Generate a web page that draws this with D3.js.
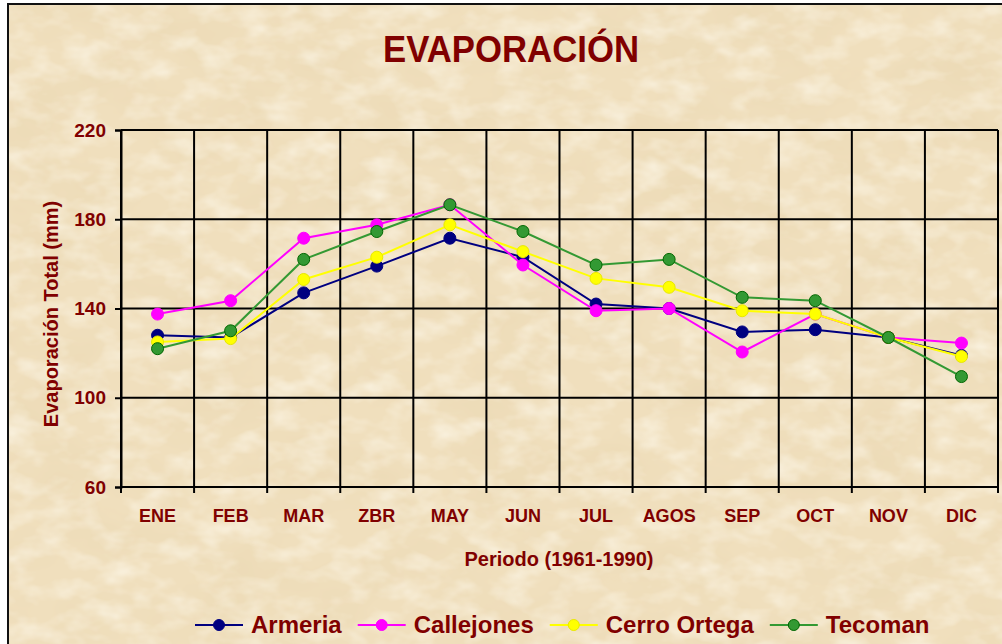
<!DOCTYPE html>
<html>
<head>
<meta charset="utf-8">
<script src="https://cdn.jsdelivr.net/npm/d3@7"></script>
<style>
  body { margin: 0; background: #fff; }
  svg { display: block; font-family: "Liberation Sans", Arial, sans-serif; }
</style>
</head>
<body>
<svg></svg>
<script>
// data
let months = ["ENE", "FEB", "MAR", "ZBR", "MAY", "JUN", "JUL", "AGOS", "SEP", "OCT", "NOV", "DIC"];
let armeria = [128, 127, 147, 159, 171.5, 163, 142, 140, 129.5, 130.5, 127, 119];
let callejones = [137.5, 143.5, 171.5, 177.5, 186.5, 159.5, 139, 140, 120.5, 137.5, 127, 124.5];
let cerroOrtega = [125, 126.5, 153, 163, 177.5, 165.5, 153.5, 149.5, 139, 137.5, 127, 118.5];
let tecoman = [122, 130, 162, 174.5, 186.5, 174.5, 159.5, 162, 145, 143.5, 127, 109.5];
let yTicks = [60, 100, 140, 180, 220];
let seriesNames = ["Armeria", "Callejones", "Cerro Ortega", "Tecoman"];

let width = 1002;
let height = 644;
let plot = { left: 121, right: 998, top: 130, bottom: 487 };
let textColor = "#800000";

let series = [
  { name: seriesNames[0], values: armeria, line: "#000080", fill: "#000080", stroke: "#000080" },
  { name: seriesNames[1], values: callejones, line: "#FF00FF", fill: "#FF00FF", stroke: "#FF00FF" },
  { name: seriesNames[2], values: cerroOrtega, line: "#FFFF00", fill: "#FFFF00", stroke: "#E8E800" },
  { name: seriesNames[3], values: tecoman, line: "#339933", fill: "#339933", stroke: "#006600" },
];

let svg = d3.select("svg").attr("width", width).attr("height", height);

// paper background
let defs = svg.append("defs");
let f = defs.append("filter").attr("id", "paper").attr("x", 0).attr("y", 0).attr("width", "100%").attr("height", "100%");
f.append("feTurbulence")
  .attr("type", "fractalNoise")
  .attr("baseFrequency", "0.011 0.018")
  .attr("numOctaves", 4)
  .attr("seed", 7);
f.append("feColorMatrix")
  .attr("values", "0 0 0 0 0.80  0 0 0 0 0.66  0 0 0 0 0.42  0.8 0 0 0 -0.3");

let f2 = defs.append("filter").attr("id", "paper2").attr("x", 0).attr("y", 0).attr("width", "100%").attr("height", "100%");
f2.append("feTurbulence")
  .attr("type", "fractalNoise")
  .attr("baseFrequency", "0.03 0.05")
  .attr("numOctaves", 3)
  .attr("seed", 21);
f2.append("feColorMatrix")
  .attr("values", "0 0 0 0 1  0 0 0 0 0.97  0 0 0 0 0.88  1.2 0 0 0 -0.5");

svg.append("rect").attr("x", 8).attr("y", 4).attr("width", width).attr("height", height)
  .attr("fill", "#F0DFBD");
svg.append("rect").attr("x", 8).attr("y", 4).attr("width", width).attr("height", height)
  .attr("filter", "url(#paper)");
svg.append("rect").attr("x", 8).attr("y", 4).attr("width", width).attr("height", height)
  .attr("filter", "url(#paper2)");
svg.append("path")
  .attr("d", `M8,${height} V4 H${width}`)
  .attr("fill", "none").attr("stroke", "#111").attr("stroke-width", 2);

// scales
let xScale = d3.scaleBand().domain(months).range([plot.left, plot.right]);
let yScale = d3.scaleLinear().domain([60, 220]).range([plot.bottom, plot.top]);
let xc = (m) => xScale(m) + xScale.bandwidth() / 2;

// grid
let grid = svg.append("g").attr("stroke", "#000").attr("stroke-width", 2);
grid.selectAll(".hg").data(yTicks).enter().append("line")
  .attr("x1", plot.left).attr("x2", plot.right)
  .attr("y1", (d) => yScale(d)).attr("y2", (d) => yScale(d));
let bounds = months.map((m) => xScale(m)).concat([plot.right]);
grid.selectAll(".vg").data(bounds).enter().append("line")
  .attr("x1", (d) => d).attr("x2", (d) => d)
  .attr("y1", plot.top).attr("y2", plot.bottom + 6);

// y axis
let yAxis = d3.axisLeft(yScale).tickValues(yTicks).tickSize(6).tickPadding(9);
let gy = svg.append("g").attr("transform", `translate(${plot.left},0)`).call(yAxis);
gy.select(".domain").attr("stroke", "#000").attr("stroke-width", 2);
gy.selectAll(".tick line").attr("stroke", "#000").attr("stroke-width", 2);
gy.selectAll(".tick text")
  .attr("fill", textColor).style("font-size", "19px").style("font-weight", "bold");

// x axis
let xAxis = d3.axisBottom(xScale).tickSize(0).tickPadding(22);
let gx = svg.append("g").attr("transform", `translate(0,${plot.bottom})`).call(xAxis);
gx.select(".domain").remove();
gx.selectAll(".tick text")
  .attr("fill", textColor).style("font-size", "18px").style("font-weight", "bold");

// titles
svg.append("text")
  .attr("x", 511).attr("y", 62)
  .attr("text-anchor", "middle")
  .attr("fill", textColor)
  .style("font-size", "36px").style("font-weight", "bold")
  .attr("textLength", 256).attr("lengthAdjust", "spacingAndGlyphs")
  .text("EVAPORACIÓN");

svg.append("text")
  .attr("x", 559).attr("y", 566)
  .attr("text-anchor", "middle")
  .attr("fill", textColor)
  .style("font-size", "20px").style("font-weight", "bold")
  .text("Periodo (1961-1990)");

svg.append("text")
  .attr("transform", "translate(58,314) rotate(-90)")
  .attr("text-anchor", "middle")
  .attr("fill", textColor)
  .style("font-size", "20px").style("font-weight", "bold")
  .text("Evaporación Total (mm)");

// lines and points
let line = d3.line().x((d, i) => xc(months[i])).y((d) => yScale(d));

series.forEach((s) => {
  let g = svg.append("g");
  g.append("path")
    .attr("d", line(s.values))
    .attr("fill", "none")
    .attr("stroke", s.line)
    .attr("stroke-width", 2);
  g.selectAll("circle").data(s.values).enter().append("circle")
    .attr("cx", (d, i) => xc(months[i]))
    .attr("cy", (d) => yScale(d))
    .attr("r", 6)
    .attr("fill", s.fill)
    .attr("stroke", s.stroke)
    .attr("stroke-width", 1);
});

// legend
let legend = svg.append("g").attr("transform", "translate(195,625)");
let lx = 0;
series.forEach((s) => {
  let item = legend.append("g").attr("transform", `translate(${lx},0)`);
  item.append("line").attr("x1", 0).attr("x2", 48).attr("y1", 0).attr("y2", 0)
    .attr("stroke", s.line).attr("stroke-width", 2);
  item.append("circle").attr("cx", 24).attr("cy", 0).attr("r", 5.5)
    .attr("fill", s.fill).attr("stroke", s.stroke).attr("stroke-width", 1);
  let t = item.append("text").attr("x", 56).attr("y", 8)
    .attr("fill", textColor)
    .style("font-size", "24px").style("font-weight", "bold")
    .text(s.name);
  lx += 56 + t.node().getComputedTextLength() + 16;
});
</script>
</body>
</html>
